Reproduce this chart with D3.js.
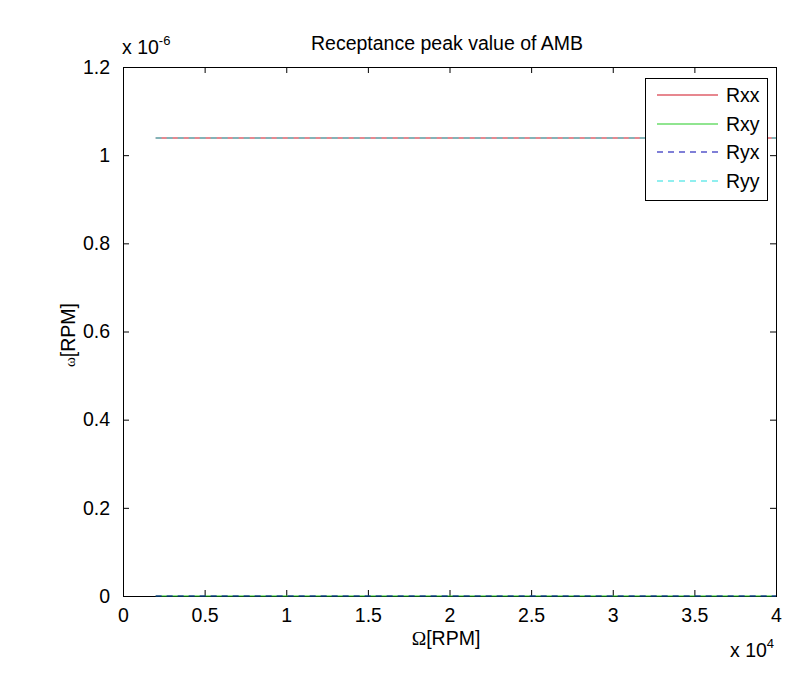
<!DOCTYPE html>
<html><head><meta charset="utf-8">
<script src="https://cdn.jsdelivr.net/npm/d3@7"></script>
<style>body{margin:0;background:#fff;} text{font-family:"Liberation Sans",Arial,sans-serif;fill:#000;}</style>
</head><body><svg id="c" width="808" height="675"></svg>
<script>
const xTicks = [0, 5000, 10000, 15000, 20000, 25000, 30000, 35000, 40000];
const xTickLabels = ["0","0.5","1","1.5","2","2.5","3","3.5","4"];
const yTicks = [0, 0.2e-6, 0.4e-6, 0.6e-6, 0.8e-6, 1.0e-6, 1.2e-6];
const yTickLabels = ["0","0.2","0.4","0.6","0.8","1","1.2"];
const speeds = [2000, 40000];
const rxx = [1.038e-6, 1.038e-6];
const rxy = [0, 0];
const ryx = [0, 0];
const ryy = [1.038e-6, 1.038e-6];
const seriesNames = ["Rxx","Rxy","Ryx","Ryy"];
const seriesColors = ["#d01020","#22cc22","#0000b0","#22e0e0"];
const seriesDash = [null, null, "6,5", "6,5"];
const seriesData = [rxx, rxy, ryx, ryy];

const svg = d3.select("#c");
const L=123, R=776, T=67, B=596;
const x = d3.scaleLinear().domain([0,40000]).range([L,R]);
const y = d3.scaleLinear().domain([0,1.2e-6]).range([B,T]);
const FS = "19.5px";

// axes
const fmtX = d=>xTickLabels[xTicks.indexOf(d)];
const fmtY = d=>yTickLabels[yTicks.findIndex(v=>Math.abs(v-d)<1e-12)];
function styleAx(g){g.select(".domain").remove();g.selectAll("line").attr("stroke","#000");g.selectAll("text").style("font-size",FS).style("font-family","Liberation Sans, Arial, sans-serif");}
svg.append("g").attr("transform",`translate(0,${B})`)
  .call(d3.axisBottom(x).tickValues(xTicks).tickFormat(fmtX).tickSizeInner(-6).tickSizeOuter(0).tickPadding(12)).call(styleAx);
svg.append("g").attr("transform",`translate(0,${T})`)
  .call(d3.axisTop(x).tickValues(xTicks).tickFormat("").tickSizeInner(-6).tickSizeOuter(0)).call(styleAx);
svg.append("g").attr("transform",`translate(${L},0)`)
  .call(d3.axisLeft(y).tickValues(yTicks).tickFormat(fmtY).tickSizeInner(-6).tickSizeOuter(0).tickPadding(13)).call(styleAx);
svg.append("g").attr("transform",`translate(${R},0)`)
  .call(d3.axisRight(y).tickValues(yTicks).tickFormat("").tickSizeInner(-6).tickSizeOuter(0)).call(styleAx);
svg.append("rect").attr("x",L+0.5).attr("y",T+0.5).attr("width",R-L).attr("height",B-T)
  .attr("fill","none").attr("stroke","#000").attr("stroke-width",1);

// series (drawn over the axes box)
const line = d3.line().x(d=>x(d[0])).y(d=>Math.round(y(d[1])));
seriesData.forEach((s,i)=>{
  svg.append("path").datum(speeds.map((v,j)=>[v,s[j]]))
    .attr("d",line).attr("fill","none").attr("stroke",seriesColors[i])
    .attr("stroke-width",1.2).attr("stroke-dasharray",seriesDash[i]);
});

// exponent labels
const e1 = svg.append("text").attr("x",122).attr("y",54).style("font-size",FS);
e1.append("tspan").text("x 10");
e1.append("tspan").attr("dy",-9).style("font-size","13px").text("-6");
const e2 = svg.append("text").attr("x",730).attr("y",657).style("font-size",FS);
e2.append("tspan").text("x 10");
e2.append("tspan").attr("dy",-9).style("font-size","13px").text("4");

// title and labels
svg.append("text").attr("x",447).attr("y",50).attr("text-anchor","middle").style("font-size",FS).text("Receptance peak value of AMB");
const xl = svg.append("text").attr("x",446).attr("y",645).attr("text-anchor","middle").style("font-size",FS);
xl.append("tspan").style("font-family","Liberation Serif, Times New Roman, serif").text("Ω");
xl.append("tspan").text("[RPM]");
const yl = svg.append("text").attr("transform","translate(75,335) rotate(-90)").attr("text-anchor","middle").style("font-size",FS);
yl.append("tspan").style("font-family","Liberation Serif, Times New Roman, serif").style("font-size","15px").text("ω");
yl.append("tspan").text("[RPM]");

// legend
const lg = svg.append("g");
lg.append("rect").attr("x",645.5).attr("y",78.5).attr("width",122).attr("height",122).attr("fill","#fff").attr("stroke","#000");
seriesNames.forEach((n,i)=>{
  const yy = Math.round(95 + i*28.7);
  lg.append("line").attr("x1",657).attr("x2",718).attr("y1",yy).attr("y2",yy)
    .attr("stroke",seriesColors[i]).attr("stroke-width",1.2).attr("stroke-dasharray",seriesDash[i]);
  lg.append("text").attr("x",726).attr("y",yy+7).style("font-size",FS).text(n);
});
</script></body></html>
